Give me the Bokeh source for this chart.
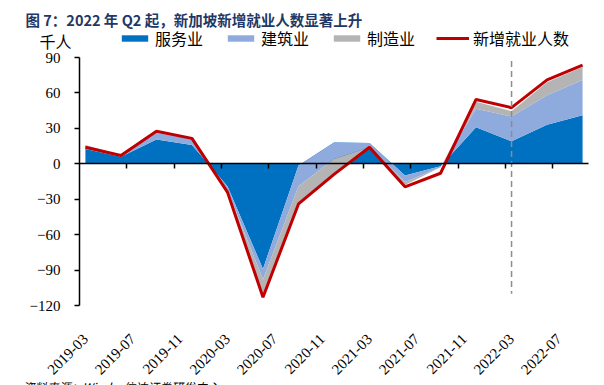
from math import pi
from bokeh.plotting import figure
from bokeh.models import (ColumnDataSource, FixedTicker, LinearAxis, Range1d, Label,
                          Legend, LegendItem)
from bokeh.embed import file_html
from bokeh.resources import INLINE

# ---- data (千人, quarterly change) ----
quarters = ["2019-03", "2019-06", "2019-09", "2019-12", "2020-03", "2020-06", "2020-09",
            "2020-12", "2021-03", "2021-06", "2021-09", "2021-12", "2022-03", "2022-06", "2022-09"]
services = [12.5, 6, 20.5, 16, -19, -89, -1.5, 18, 17.5, -10, -2, 31, 19, 33, 41]
construction = [2.5, 1.5, 5.5, 5, -3, -9, -17.5, -14, -3.5, -5.5, -1, 15.5, 21, 25, 30]
manufacturing = [1, 0, 0.5, 0.5, -1.5, -12, -15, -12.5, 0.5, -2.5, 0, 6, 4.5, 11, 11]
total = [14, 7, 27.5, 21.5, -24, -113, -34, -9, 14, -19.5, -8, 54.5, 47.5, 71, 83.5]
tick_labels = ["2019-03", "2019-07", "2019-11", "2020-03", "2020-07", "2020-11",
               "2021-03", "2021-07", "2021-11", "2022-03", "2022-07"]
y_ticks = [-120, -90, -60, -30, 0, 30, 60, 90]
divider_quarter = "2022-03"
divider_span = [87, -110]

title_text = "图 7：2022 年 Q2 起，新加坡新增就业人数显著上升"
unit_text = "千人"
source_text = "资料来源：Wind，信达证券研发中心"
names = ["服务业", "建筑业", "制造业", "新增就业人数"]
colors = ["#0070C0", "#8FAADC", "#B4B4B4", "#C00000"]

start_year, start_month = 2019, 3


def month_index(s):
    y, m = s.split("-")
    return (int(y) - start_year) * 12 + int(m) - start_month


x = [month_index(q) for q in quarters]
lvl1 = services
lvl2 = [a + b for a, b in zip(services, construction)]
lvl3 = [a + b + c for a, b, c in zip(services, construction, manufacturing)]
src = ColumnDataSource(dict(x=x, zero=[0] * len(x), l1=lvl1, l2=lvl2, l3=lvl3, total=total))

n_months = month_index(quarters[-1]) + 1
y_lo_axis, y_hi_axis = y_ticks[0], y_ticks[-1]

# layout (pixels): plot box inside the canvas
W, H = 604, 385
box_l, box_r, box_t, box_b = 79, 588, 57, 305
ppm = (box_r - box_l) / n_months
ppu = (box_b - box_t) / (y_hi_axis - y_lo_axis)
x_start = -0.5 - box_l / ppm
x_end = n_months - 0.5 + (W - box_r) / ppm
y_end = y_hi_axis + box_t / ppu
y_start = y_lo_axis - (H - box_b) / ppu

p = figure(width=W, height=H, output_backend="svg", toolbar_location=None,
           x_range=Range1d(x_start, x_end), y_range=Range1d(y_start, y_end),
           min_border=0, title=None, x_axis_location=None, y_axis_location=None)
p.outline_line_color = None
p.grid.visible = False
p.background_fill_color = "white"
p.border_fill_color = "white"

r1 = p.varea(x="x", y1="zero", y2="l1", source=src, fill_color=colors[0])
r2 = p.varea(x="x", y1="l1", y2="l2", source=src, fill_color=colors[1])
r3 = p.varea(x="x", y1="l2", y2="l3", source=src, fill_color=colors[2])
r4 = p.line(x="x", y="total", source=src, line_color=colors[3], line_width=3)

dx = month_index(divider_quarter)
p.segment(x0=[dx], x1=[dx], y0=[divider_span[0]], y1=[divider_span[1]],
          line_color="#8C8C8C", line_width=1.5, line_dash="6 4")

# y axis at the left edge of the data area
ya = LinearAxis(fixed_location=-0.5, bounds=(y_lo_axis, y_hi_axis), ticker=FixedTicker(ticks=y_ticks))
ya.major_tick_out = 5
ya.major_tick_in = 0
ya.minor_tick_out = 0
ya.minor_tick_in = 0
ya.axis_line_width = 1.5
ya.axis_line_color = "black"
ya.major_tick_line_width = 1.5
ya.major_label_standoff = 14
ya.major_label_text_font = "Liberation Serif"
ya.major_label_text_font_size = "15px"
ya.major_label_text_color = "black"
p.add_layout(ya, "left")

# x axis labels at the bottom of the data area
label_pos = [month_index(l) for l in tick_labels]
xa = LinearAxis(fixed_location=y_lo_axis, ticker=FixedTicker(ticks=label_pos))
xa.major_label_overrides = {k: v for k, v in zip(label_pos, tick_labels)}
xa.major_label_orientation = pi / 4
xa.axis_line_color = None
xa.major_tick_line_color = None
xa.minor_tick_line_color = None
xa.major_tick_out = 0
xa.major_tick_in = 0
xa.major_label_standoff = 31
xa.major_label_text_font = "Liberation Serif"
xa.major_label_text_font_size = "15px"
xa.major_label_text_color = "black"
p.add_layout(xa, "below")

# zero-line axis with tick marks between label groups
bounds = [v - 0.5 for v in label_pos[1:]]
za = LinearAxis(fixed_location=0, bounds=(-0.5, n_months - 0.5), ticker=FixedTicker(ticks=bounds))
za.major_label_text_color = None
za.major_label_text_font_size = "1px"
za.major_label_standoff = 0
za.major_tick_out = 5
za.major_tick_in = 0
za.minor_tick_out = 0
za.minor_tick_in = 0
za.axis_line_width = 1.5
za.major_tick_line_width = 1.5
za.axis_line_color = "black"
p.add_layout(za, "below")

legend = Legend(items=[LegendItem(label=names[0], renderers=[r1]),
                       LegendItem(label=names[1], renderers=[r2]),
                       LegendItem(label=names[2], renderers=[r3]),
                       LegendItem(label=names[3], renderers=[r4])],
                orientation="horizontal", location=(118, H - 50),
                padding=0, margin=0, spacing=21, label_standoff=4,
                glyph_width=33, glyph_height=8, label_height=18,
                label_text_font="Noto Sans CJK SC", label_text_font_size="16px",
                label_text_color="black", border_line_color=None, background_fill_alpha=0)
p.add_layout(legend)

p.add_layout(Label(x=25, y=H - 18.5, x_units="screen", y_units="screen", text=title_text,
                   text_font="Noto Sans CJK SC", text_font_size="14.5px", text_font_style="bold",
                   text_color="#1F3864", text_baseline="middle"))
p.add_layout(Label(x=39, y=H - 40, x_units="screen", y_units="screen", text=unit_text,
                   text_font="Noto Sans CJK SC", text_font_size="16px",
                   text_color="black", text_baseline="middle"))
p.add_layout(Label(x=22, y=H - 377, x_units="screen", y_units="screen", text=source_text,
                   text_font="Noto Sans CJK SC", text_font_size="12px", text_font_style="italic",
                   text_color="black", text_baseline="top"))

open("out.html", "w").write(file_html(p, INLINE))
